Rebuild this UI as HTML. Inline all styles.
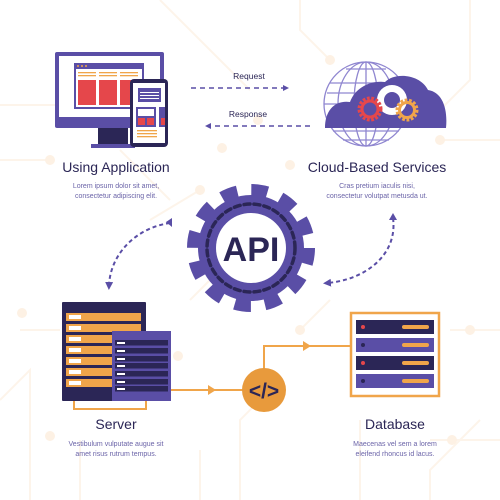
<!DOCTYPE html>
<html><head><meta charset="utf-8"><style>
html,body{margin:0;padding:0;background:#fff;}
svg{display:block;}
text{font-family:"Liberation Sans",sans-serif;}
</style></head><body>
<svg width="500" height="500" viewBox="0 0 500 500">
<defs>
<marker id="ap" viewBox="0 0 10 10" refX="5" refY="5" markerWidth="4" markerHeight="4" orient="auto"><path d="M0,0L10,5L0,10z" fill="#5a4ea6"/></marker>
</defs>
<g stroke="#fdf4ea" stroke-width="2" fill="none">
<path d="M0,105 H60 M0,160 H50 M20,330 H60 M0,400 L30,370 V500 M160,0 L250,90 M300,0 V30 L330,60 M470,0 V80 L430,120 M500,140 H440 M500,330 H450 M500,440 H430 M430,500 V470 L480,420 M360,500 V420 M240,500 V420 L280,380 M200,500 V450 M190,300 L230,260 M150,220 L200,190 M300,330 L330,300 M80,500 V440 M120,150 L170,200"/>
<g fill="#fdf1e4" stroke="none"><circle cx="60" cy="105" r="5"/><circle cx="50" cy="160" r="5"/><circle cx="22" cy="313" r="5"/><circle cx="50" cy="436" r="5"/><circle cx="330" cy="60" r="5"/><circle cx="430" cy="120" r="5"/><circle cx="440" cy="140" r="5"/><circle cx="470" cy="330" r="5"/><circle cx="452" cy="440" r="5"/><circle cx="178" cy="356" r="5"/><circle cx="290" cy="165" r="5"/><circle cx="200" cy="190" r="5"/><circle cx="300" cy="330" r="5"/><circle cx="258" cy="120" r="5"/><circle cx="222" cy="148" r="5"/></g>
</g>

<g>
<rect x="55" y="52" width="109" height="76" rx="2" fill="#5a4ea6"/>
<rect x="59" y="56" width="101" height="61" fill="#fff"/>
<rect x="98" y="128" width="30" height="17" fill="#2b2656"/>
<rect x="91" y="144" width="44" height="4" fill="#5a4ea6"/>
<rect x="74" y="63" width="70" height="46" fill="#5a4ea6"/>
<rect x="76" y="69" width="66" height="38" fill="#fff"/>
<g fill="#f0a54a"><circle cx="78" cy="66" r="1"/><circle cx="82" cy="66" r="1"/><circle cx="86" cy="66" r="1"/></g>
<g fill="#f0a54a"><rect x="78" y="72" width="18" height="1.3"/><rect x="78" y="75" width="18" height="1.3"/><rect x="99" y="72" width="18" height="1.3"/><rect x="99" y="75" width="18" height="1.3"/><rect x="120" y="72" width="18" height="1.3"/><rect x="120" y="75" width="18" height="1.3"/></g>
<g fill="#e5474b"><rect x="78" y="80" width="18" height="25"/><rect x="99" y="80" width="18" height="25"/><rect x="120" y="80" width="18" height="25"/></g>
</g>
<g>
<rect x="130" y="79" width="38" height="68" rx="4" fill="#2b2656"/>
<rect x="133" y="83" width="32" height="60" fill="#fff"/>
<rect x="138" y="88" width="23" height="14" fill="#5a4ea6"/>
<g fill="#fff"><rect x="140" y="92" width="19" height="1"/><rect x="140" y="95" width="19" height="1"/><rect x="140" y="98" width="19" height="1"/></g>
<rect x="136" y="107" width="20" height="20" fill="#5a4ea6"/><rect x="138" y="109" width="16" height="7" fill="#fff"/>
<rect x="138" y="118" width="7" height="7" fill="#e5474b"/><rect x="147" y="118" width="7" height="7" fill="#e5474b"/>
<rect x="159" y="107" width="6" height="20" fill="#5a4ea6"/><rect x="161" y="118" width="4" height="7" fill="#e5474b"/>
<g fill="#f0a54a"><rect x="137" y="130" width="20" height="1.3"/><rect x="137" y="133" width="20" height="1.3"/><rect x="137" y="136" width="20" height="1.3"/></g>
</g>

<text x="249" y="79" font-size="8.5" fill="#2b2656" text-anchor="middle">Request</text>
<line x1="191" y1="88" x2="286" y2="88" stroke="#5a4ea6" stroke-width="1.5" stroke-dasharray="5,4" marker-end="url(#ap)"/>
<text x="248" y="117" font-size="8.5" fill="#2b2656" text-anchor="middle">Response</text>
<line x1="310" y1="126" x2="208" y2="126" stroke="#5a4ea6" stroke-width="1.5" stroke-dasharray="5,4" marker-end="url(#ap)"/>

<g>
<g fill="none" stroke="#8f86d0" stroke-width="1.3">
<circle cx="366" cy="104" r="42"/>
<ellipse cx="366" cy="104" rx="28" ry="42"/><ellipse cx="366" cy="104" rx="12" ry="42"/>
<line x1="366" y1="62" x2="366" y2="146"/><line x1="324" y1="104" x2="408" y2="104"/>
<path d="M330,83 H402 M327,93 H405 M327,118 H405 M333,131 H399 M343,140 H389 M346,69 H386"/>
</g>
<path d="M325,128 C325,110 335,100 350,102 C355,88 370,80 385,82 C395,72 420,74 428,90 C442,92 448,108 446,128 Z" fill="#5a4ea6"/>
<circle cx="392" cy="100" r="15" fill="#fff"/><circle cx="392" cy="100" r="8" fill="#5a4ea6"/>
<circle cx="370" cy="109" r="10" fill="none" stroke="#e5474b" stroke-width="5" stroke-dasharray="2.5,1.5"/><circle cx="370" cy="109" r="8" fill="none" stroke="#e5474b" stroke-width="3"/>
<circle cx="407" cy="110" r="9" fill="none" stroke="#f0a54a" stroke-width="5" stroke-dasharray="2.5,1.5"/><circle cx="407" cy="110" r="7.5" fill="none" stroke="#f0a54a" stroke-width="3"/>
</g>

<text x="116" y="172" font-size="14" fill="#2b2656" text-anchor="middle">Using Application</text>
<text x="116" y="188" font-size="7" fill="#6b64a8" text-anchor="middle"><tspan x="116">Lorem ipsum dolor sit amet,</tspan><tspan x="116" dy="10">consectetur adipiscing elit.</tspan></text>
<text x="377" y="172" font-size="14" fill="#2b2656" text-anchor="middle">Cloud-Based Services</text>
<text x="377" y="188" font-size="7" fill="#6b64a8" text-anchor="middle"><tspan x="377">Cras pretium iaculis nisi,</tspan><tspan x="377" dy="10">consectetur volutpat metusda ut.</tspan></text>

<g>
<circle cx="251" cy="248" r="57" fill="none" stroke="#5a4ea6" stroke-width="14" stroke-dasharray="16,13.85" stroke-linejoin="round"/>
<circle cx="251" cy="248" r="53" fill="#5a4ea6"/>
<circle cx="251" cy="248" r="44" fill="none" stroke="#2b2656" stroke-width="3.5" stroke-dasharray="6,4" stroke-linecap="round"/>
<circle cx="251" cy="248" r="35" fill="#fff"/>
<text x="251" y="261" font-size="34" font-weight="bold" fill="#2b2656" text-anchor="middle">API</text>
</g>
<path d="M170,223 C135,228 110,255 109,286" fill="none" stroke="#5a4ea6" stroke-width="2" stroke-dasharray="4,3" marker-end="url(#ap)"/>
<path d="M393,218 C398,255 365,280 327,283" fill="none" stroke="#5a4ea6" stroke-width="2" stroke-dasharray="4,3" marker-end="url(#ap)"/>
<path d="M172,227 L166,222 L172,218 Z" fill="#5a4ea6"/>
<path d="M389,220 L393,213 L397,220 Z" fill="#5a4ea6"/>

<g>
<path d="M74,401 V409 H146 V401" fill="none" stroke="#f0a54a" stroke-width="2"/>
<rect x="62" y="302" width="84" height="99" rx="1" fill="#2b2656"/>
<g fill="#f0a54a"><rect x="66" y="313" width="75" height="8"/><rect x="66" y="324" width="75" height="8"/><rect x="66" y="335" width="75" height="8"/><rect x="66" y="346" width="75" height="8"/><rect x="66" y="357" width="75" height="8"/><rect x="66" y="368" width="75" height="8"/><rect x="66" y="379" width="75" height="8"/></g>
<g fill="#fff"><rect x="69" y="315" width="12" height="4"/><rect x="69" y="326" width="12" height="4"/><rect x="69" y="337" width="12" height="4"/><rect x="69" y="348" width="12" height="4"/><rect x="69" y="359" width="12" height="4"/><rect x="69" y="370" width="12" height="4"/><rect x="69" y="381" width="12" height="4"/></g>
<rect x="112" y="331" width="59" height="70" fill="#5a4ea6"/>
<g fill="#2b2656"><rect x="115" y="340" width="53" height="5.5"/><rect x="115" y="348" width="53" height="5.5"/><rect x="115" y="356" width="53" height="5.5"/><rect x="115" y="363" width="53" height="5.5"/><rect x="115" y="371" width="53" height="5.5"/><rect x="115" y="379" width="53" height="5.5"/><rect x="115" y="386" width="53" height="5.5"/></g>
<g fill="#fff"><rect x="117" y="342" width="8" height="2"/><rect x="117" y="350" width="8" height="2"/><rect x="117" y="358" width="8" height="2"/><rect x="117" y="365" width="8" height="2"/><rect x="117" y="373" width="8" height="2"/><rect x="117" y="381" width="8" height="2"/><rect x="117" y="388" width="8" height="2"/></g>
</g>
<g stroke="#f0a54a" stroke-width="2" fill="none">
<path d="M171,390 H245"/><path d="M264,370 V346 H350"/>
</g>
<path d="M208,385 L216,390 L208,395 Z" fill="#f0a54a"/>
<path d="M303,341 L311,346 L303,351 Z" fill="#f0a54a"/>
<g>
<circle cx="264" cy="390" r="22" fill="#e89a3c"/>
<text x="264" y="398" font-size="21" font-weight="bold" fill="#2b2656" text-anchor="middle">&lt;/&gt;</text>
</g>

<g>
<rect x="351" y="313" width="88" height="83" fill="#fff" stroke="#f0a54a" stroke-width="2.5"/>
<rect x="356" y="320" width="78" height="14" fill="#2b2656"/><rect x="356" y="338" width="78" height="14" fill="#5a4ea6"/>
<rect x="356" y="356" width="78" height="14" fill="#2b2656"/><rect x="356" y="374" width="78" height="14" fill="#5a4ea6"/>
<circle cx="363" cy="327" r="2" fill="#e5474b"/><circle cx="363" cy="345" r="2" fill="#2b2656"/><circle cx="363" cy="363" r="2" fill="#e5474b"/><circle cx="363" cy="381" r="2" fill="#2b2656"/>
<g fill="#f0a54a"><rect x="402" y="325" width="27" height="4" rx="2"/><rect x="402" y="343" width="27" height="4" rx="2"/><rect x="402" y="361" width="27" height="4" rx="2"/><rect x="402" y="379" width="27" height="4" rx="2"/></g>
</g>

<text x="116" y="429" font-size="14" fill="#2b2656" text-anchor="middle">Server</text>
<text x="116" y="446" font-size="7" fill="#6b64a8" text-anchor="middle"><tspan x="116">Vestibulum vulputate augue sit</tspan><tspan x="116" dy="10">amet risus rutrum tempus.</tspan></text>
<text x="395" y="429" font-size="14" fill="#2b2656" text-anchor="middle">Database</text>
<text x="395" y="446" font-size="7" fill="#6b64a8" text-anchor="middle"><tspan x="395">Maecenas vel sem a lorem</tspan><tspan x="395" dy="10">eleifend rhoncus id lacus.</tspan></text>
</svg>
</body></html>
